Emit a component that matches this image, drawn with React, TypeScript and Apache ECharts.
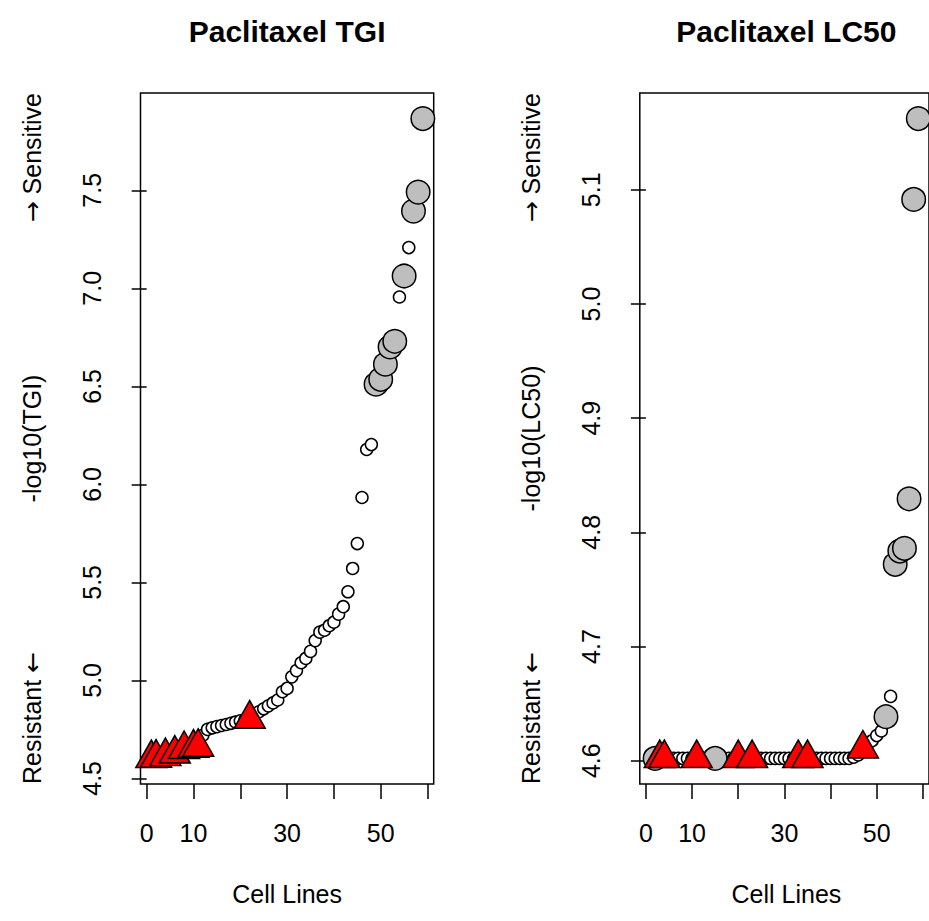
import React, { useEffect, useRef } from "react";
import * as echarts from "echarts";

const cellIndex = Array.from({ length: 59 }, (_, i) => i + 1);

// -log10(TGI), sorted ascending (cell lines 1..59)
const tgiValues = [
  4.602, 4.604, 4.608, 4.612, 4.618, 4.625, 4.638, 4.648, 4.652, 4.655,
  4.66, 4.72, 4.75, 4.758, 4.764, 4.77, 4.775, 4.781, 4.788, 4.794,
  4.799, 4.803, 4.825, 4.84, 4.855, 4.87, 4.885, 4.9, 4.942, 4.959,
  5.018, 5.05, 5.09, 5.112, 5.148, 5.203, 5.246, 5.256, 5.279, 5.297,
  5.338, 5.376, 5.452, 5.571, 5.698, 5.933, 6.178, 6.203, 6.511, 6.536,
  6.613, 6.701, 6.73, 6.956, 7.063, 7.208, 7.394, 7.491, 7.866,
];
const tgiTriangles = [1, 2, 4, 6, 8, 10, 11, 22];
const tgiGrey = [49, 50, 51, 52, 53, 55, 57, 58, 59];

// -log10(LC50), sorted ascending
const lc50Values = [
  4.602, 4.602, 4.602, 4.602, 4.602, 4.602, 4.602, 4.602, 4.602, 4.602,
  4.602, 4.602, 4.602, 4.602, 4.602, 4.602, 4.602, 4.602, 4.602, 4.602,
  4.602, 4.602, 4.602, 4.602, 4.602, 4.602, 4.602, 4.602, 4.602, 4.602,
  4.602, 4.602, 4.602, 4.602, 4.602, 4.602, 4.602, 4.602, 4.602, 4.602,
  4.602, 4.602, 4.602, 4.602, 4.603, 4.605, 4.6104, 4.6146, 4.6175, 4.622,
  4.626, 4.6385, 4.6563, 4.772, 4.7836, 4.786, 4.8294, 5.0916, 5.1624,
];
const lc50Triangles = [3, 4, 11, 20, 23, 33, 35, 47];
const lc50Grey = [2, 15, 52, 54, 55, 56, 57, 58, 59];

const xTicks = [0, 10, 20, 30, 40, 50, 60];
const xTickLabels = [0, 10, 30, 50];
const tgiYTicks = [4.5, 5.0, 5.5, 6.0, 6.5, 7.0, 7.5];
const lc50YTicks = [4.6, 4.7, 4.8, 4.9, 5.0, 5.1];

const FONT = "'Liberation Sans', Arial, Helvetica, sans-serif";
const ARROW_FONT = "'DejaVu Sans', sans-serif";
const TRI_W = 31;
const TRI_H = 27.5;

function rRange(vals: number[]): [number, number] {
  const lo = Math.min(...vals);
  const hi = Math.max(...vals);
  const d = (hi - lo) * 0.04;
  return [lo - d, hi + d];
}

function panelSeries(values: number[], tri: number[], grey: number[], idx: number) {
  const pts = cellIndex.map((x, i) => [x, values[i]]);
  const open = pts.filter((p) => !tri.includes(p[0]) && !grey.includes(p[0]));
  const gr = pts.filter((p) => grey.includes(p[0]));
  const tr = pts.filter((p) => tri.includes(p[0]));
  const base = { type: "scatter", xAxisIndex: idx, yAxisIndex: idx, silent: true };
  return [
    {
      ...base,
      data: open,
      symbol: "circle",
      symbolSize: 12,
      itemStyle: { color: "#ffffff", borderColor: "#000000", borderWidth: 1.5, opacity: 1 },
    },
    {
      ...base,
      data: gr,
      symbol: "circle",
      symbolSize: 23.5,
      itemStyle: { color: "#bebebe", borderColor: "#000000", borderWidth: 1.5, opacity: 1 },
    },
    {
      ...base,
      data: tr,
      symbol: "triangle",
      symbolSize: [TRI_W, TRI_H],
      symbolOffset: [0, -TRI_H / 6],
      itemStyle: { color: "#ff0000", borderColor: "#000000", borderWidth: 1.5, opacity: 1 },
    },
  ];
}

function xAxisDef(idx: number) {
  const xr = rRange(cellIndex);
  return {
    type: "value",
    gridIndex: idx,
    min: xr[0],
    max: xr[1],
    axisLine: { show: false },
    splitLine: { show: false },
    axisTick: {
      show: true,
      length: 15,
      customValues: xTicks,
      lineStyle: { color: "#000", width: 1.5 },
    },
    axisLabel: {
      show: true,
      customValues: xTickLabels,
      margin: 36,
      fontSize: 25,
      fontFamily: FONT,
      color: "#000",
      formatter: (v: number) => String(Math.round(v)),
    },
  };
}

function yAxisDef(idx: number, values: number[], ticks: number[]) {
  const yr = rRange(values);
  return {
    type: "value",
    gridIndex: idx,
    min: yr[0],
    max: yr[1],
    axisLine: { show: false },
    splitLine: { show: false },
    axisTick: {
      show: true,
      length: 15,
      customValues: ticks,
      lineStyle: { color: "#000", width: 1.5 },
    },
    axisLabel: {
      show: true,
      customValues: ticks,
      rotate: 90,
      margin: 36,
      fontSize: 25,
      fontFamily: FONT,
      color: "#000",
      formatter: (v: number) => v.toFixed(1),
    },
  };
}

function sideTexts(cx: number, plotCx: number, title: string, ylab: string) {
  const common = { fontFamily: FONT, fill: "#000", fontSize: 25 };
  const rich = { a: { fontFamily: ARROW_FONT, fontSize: 25, fill: "#000" } };
  return [
    {
      type: "text",
      x: plotCx,
      y: 31,
      style: { ...common, text: title, fontSize: 30, fontWeight: "bold", textAlign: "center", textVerticalAlign: "middle" },
    },
    {
      type: "text",
      x: cx,
      y: 438.5,
      rotation: Math.PI / 2,
      style: { ...common, text: ylab, textAlign: "center", textVerticalAlign: "middle" },
    },
    {
      type: "text",
      x: cx,
      y: 784,
      rotation: Math.PI / 2,
      style: { ...common, text: "Resistant {a|\u2190}", rich, textAlign: "left", textVerticalAlign: "middle" },
    },
    {
      type: "text",
      x: cx,
      y: 93,
      rotation: Math.PI / 2,
      style: { ...common, text: "{a|\u2192} Sensitive", rich, textAlign: "right", textVerticalAlign: "middle" },
    },
    {
      type: "text",
      x: plotCx,
      y: 894,
      style: { ...common, text: "Cell Lines", textAlign: "center", textVerticalAlign: "middle" },
    },
  ];
}

export default function App() {
  const ref = useRef<HTMLDivElement>(null);
  useEffect(() => {
    if (!ref.current) return;
    const chart = echarts.init(ref.current, null, { renderer: "svg" });
    const gridStyle = { show: true, borderColor: "#000", borderWidth: 1.5, backgroundColor: "transparent" };
    chart.setOption({
      animation: false,
      backgroundColor: "#ffffff",
      grid: [
        { ...gridStyle, left: 140.5, top: 93, width: 293.2, height: 691 },
        { ...gridStyle, left: 639.8, top: 93, width: 293.2, height: 691 },
      ],
      xAxis: [xAxisDef(0), xAxisDef(1)],
      yAxis: [yAxisDef(0, tgiValues, tgiYTicks), yAxisDef(1, lc50Values, lc50YTicks)],
      series: [
        ...panelSeries(tgiValues, tgiTriangles, tgiGrey, 0),
        ...panelSeries(lc50Values, lc50Triangles, lc50Grey, 1),
      ],
      graphic: [
        ...sideTexts(32, 287.1, "Paclitaxel TGI", "-log10(TGI)"),
        ...sideTexts(531, 786.4, "Paclitaxel LC50", "-log10(LC50)"),
      ],
    });
    return () => chart.dispose();
  }, []);
  return (
    <div
      ref={ref}
      style={{ position: "fixed", left: 0, top: 0, width: 929, height: 921, background: "#fff" }}
    />
  );
}
